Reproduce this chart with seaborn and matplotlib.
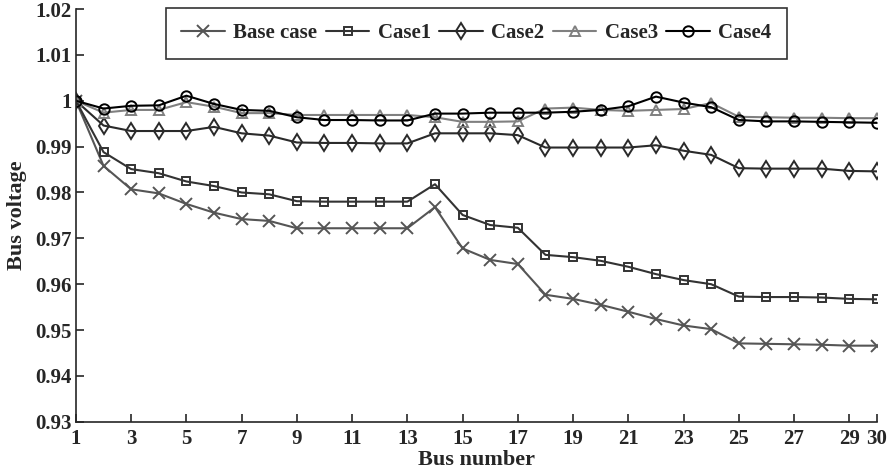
import matplotlib
matplotlib.use("Agg")
import matplotlib.pyplot as plt
import seaborn as sns
import pandas as pd

# data
bus = list(range(1, 31))

base_case = [1.0000, 0.9858, 0.9807, 0.9798, 0.9775, 0.9756, 0.9742, 0.9738, 0.9722, 0.9722,
             0.9722, 0.9722, 0.9722, 0.9768, 0.9678, 0.9653, 0.9644, 0.9577, 0.9568, 0.9555,
             0.9540, 0.9524, 0.9510, 0.9502, 0.9471, 0.9470, 0.9469, 0.9468, 0.9466, 0.9466]

case1 = [1.0000, 0.9888, 0.9851, 0.9842, 0.9824, 0.9814, 0.9800, 0.9796, 0.9781, 0.9780,
         0.9780, 0.9780, 0.9780, 0.9818, 0.9751, 0.9729, 0.9723, 0.9664, 0.9659, 0.9651,
         0.9638, 0.9622, 0.9609, 0.9600, 0.9573, 0.9572, 0.9572, 0.9571, 0.9568, 0.9567]

case2 = [1.0000, 0.9946, 0.9934, 0.9934, 0.9934, 0.9943, 0.9929, 0.9924, 0.9909, 0.9908,
         0.9908, 0.9907, 0.9907, 0.9929, 0.9929, 0.9929, 0.9925, 0.9898, 0.9898, 0.9898,
         0.9898, 0.9903, 0.9891, 0.9882, 0.9853, 0.9852, 0.9852, 0.9852, 0.9847, 0.9846]

case3 = [1.0000, 0.9974, 0.9980, 0.9980, 0.9997, 0.9987, 0.9973, 0.9973, 0.9969, 0.9969,
         0.9969, 0.9969, 0.9969, 0.9964, 0.9954, 0.9954, 0.9955, 0.9983, 0.9985, 0.9980,
         0.9978, 0.9980, 0.9982, 0.9995, 0.9965, 0.9964, 0.9963, 0.9963, 0.9962, 0.9962]

case4 = [1.0000, 0.9983, 0.9989, 0.9990, 1.0011, 0.9993, 0.9980, 0.9978, 0.9964, 0.9958,
         0.9958, 0.9957, 0.9957, 0.9972, 0.9972, 0.9974, 0.9974, 0.9974, 0.9976, 0.9980,
         0.9988, 1.0009, 0.9996, 0.9986, 0.9958, 0.9955, 0.9955, 0.9954, 0.9953, 0.9952]

series_names = ["Base case", "Case1", "Case2", "Case3", "Case4"]
x_ticks = [1, 3, 5, 7, 9, 11, 13, 15, 17, 19, 21, 23, 25, 27, 29, 30]
y_ticks = [0.93, 0.94, 0.95, 0.96, 0.97, 0.98, 0.99, 1.00, 1.01, 1.02]
y_tick_labels = ["0.93", "0.94", "0.95", "0.96", "0.97", "0.98", "0.99", "1", "1.01", "1.02"]

# long table for seaborn
frames = []
for name, vals in zip(series_names, [base_case, case1, case2, case3, case4]):
    frames.append(pd.DataFrame({"bus": bus, "voltage": vals, "case": name}))
df = pd.concat(frames, ignore_index=True)

colors = {"Base case": "#555555", "Case1": "#333333", "Case2": "#2a2a2a",
          "Case3": "#808080", "Case4": "#000000"}
# seaborn won't mix line-art and filled markers, so "X" is swapped for "x" after drawing
markers = {"Base case": "X", "Case1": "s", "Case2": "d", "Case3": "^", "Case4": "o"}
msizes = {"Base case": 8, "Case1": 6, "Case2": 8, "Case3": 6.5, "Case4": 7.5}

sns.set_style("ticks")
plt.rcParams["font.family"] = ["Liberation Serif", "DejaVu Serif"]
plt.rcParams["font.weight"] = "bold"

fig = plt.figure(figsize=(8.93, 4.75), dpi=100)
ax = fig.add_axes([0.085, 0.112, 0.897, 0.869])

sns.lineplot(data=df, x="bus", y="voltage", hue="case", style="case",
             hue_order=series_names, style_order=series_names,
             palette=colors, markers=markers, dashes=False,
             linewidth=1.5, legend=False, ax=ax)

lines = ax.get_lines()[:5]
for line, name in zip(lines, series_names):
    line.set_markersize(msizes[name])
    line.set_markeredgewidth(1.4)
    line.set_markeredgecolor(colors[name])
    if name == "Base case":
        line.set_marker("x")
    else:
        line.set_markerfacecolor("none")
    line.set_label(name)

ax.set_xlim(1, 30)
ax.set_ylim(0.93, 1.02)
ax.set_xticks(x_ticks)
ax.set_xticklabels([str(t) for t in x_ticks])
ax.set_yticks(y_ticks)
ax.set_yticklabels(y_tick_labels)
ax.tick_params(direction="in", length=6, width=1.2, labelsize=15)
ax.tick_params(axis="x", pad=5)
ax.tick_params(axis="y", pad=3)
for lab in ax.get_xticklabels() + ax.get_yticklabels():
    lab.set_fontweight("bold")

sns.despine(ax=ax)
ax.spines["left"].set_linewidth(1.2)
ax.spines["bottom"].set_linewidth(1.2)

ax.set_xlabel("Bus number", fontsize=16, fontweight="bold", labelpad=1)
ax.set_ylabel("Bus voltage", fontsize=16, fontweight="bold", labelpad=6)

leg = ax.legend(handles=lines, labels=series_names, loc="upper center",
                bbox_to_anchor=(0.5, 1.003), borderaxespad=0, ncol=5, fontsize=15,
                frameon=True, fancybox=False, handlelength=2.1, columnspacing=0.4,
                handletextpad=0.4, borderpad=0.75)
leg.get_frame().set_edgecolor("black")
leg.get_frame().set_linewidth(1.2)
for t in leg.get_texts():
    t.set_fontweight("bold")

fig.savefig("out.png", dpi=100)
